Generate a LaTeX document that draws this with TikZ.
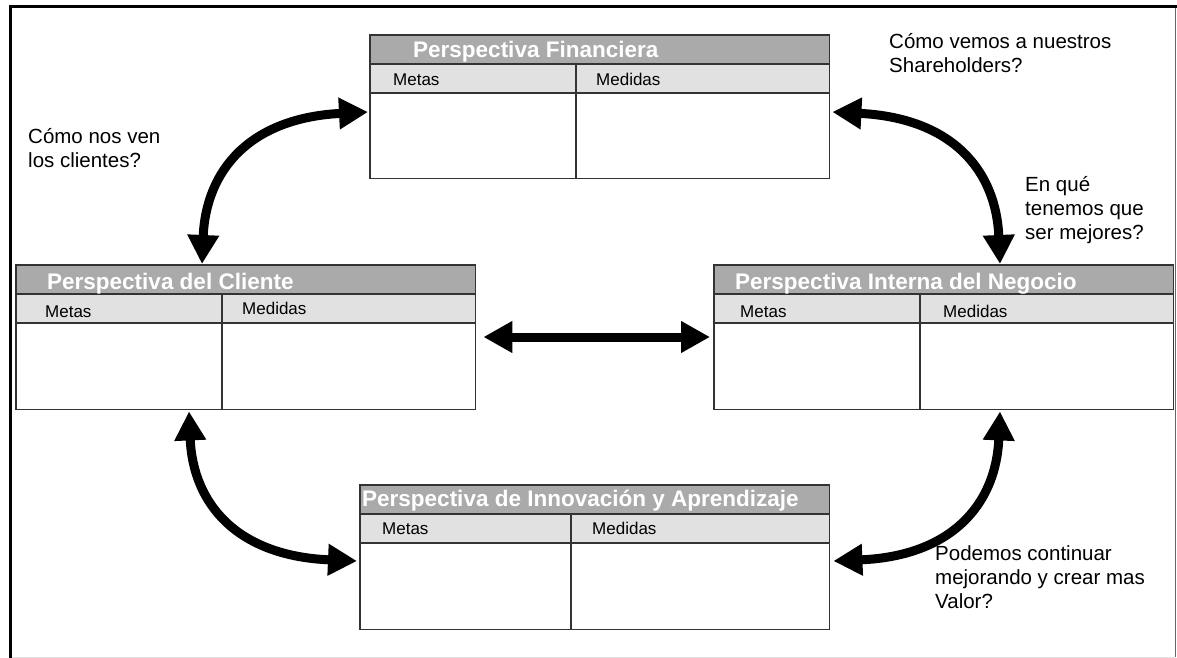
\documentclass[tikz,border=0pt]{standalone}
\usepackage{fontspec}
\setmainfont{Liberation Sans}
\usetikzlibrary{arrows.meta,calc}
\definecolor{hdrgray}{RGB}{170,170,170}
\definecolor{subgray}{RGB}{225,225,225}
\definecolor{rulegray}{RGB}{51,51,51}

% one perspective table: #1 = node name, #2 = x offset of the column divider
\newcommand\persptable[2]{%
  \fill[white] (#1.north west) rectangle (#1.south east);
  \fill[hdrgray] (#1.north west) rectangle ($(#1.north east)+(0,29)$);
  \fill[subgray] ($(#1.north west)+(0,29)$) rectangle ($(#1.north east)+(0,58)$);
  \draw[tablerule] ($(#1.north west)+(0,29)$) -- ($(#1.north east)+(0,29)$);
  \draw[tablerule] ($(#1.north west)+(0,58)$) -- ($(#1.north east)+(0,58)$);
  \draw[tablerule] ($(#1.north west)+(#2,29)$) -- ($(#1.south west)+(#2,0)$);
  \draw[tablerule] (#1.north west) rectangle (#1.south east);
}

\begin{document}
\begin{tikzpicture}[x=1pt,y=-1pt,
  pbox/.style={rectangle, inner sep=0pt, anchor=north west},
  tablerule/.style={draw=rulegray, line width=1.6pt},
  hdrtext/.style={anchor=base west, inner sep=0pt, text=white,
    font=\fontsize{22.5}{26}\selectfont\bfseries},
  coltext/.style={anchor=base west, inner sep=0pt,
    font=\fontsize{17}{20}\selectfont},
  question/.style={anchor=base west, inner sep=0pt,
    font=\fontsize{20.5}{24}\selectfont},
  bigarrow/.style={line width=9pt,
    {Triangle[length=29pt,width=30pt]}-{Triangle[length=29pt,width=30pt]}},
]
\useasboundingbox (0,0) rectangle (1177,658);
\fill[white] (0,0) rectangle (1177,658);

% window frame
\draw[line width=3.5pt] (10.5,658) -- (10.5,6.5) -- (1177,6.5);
\draw[line width=1pt, black!60] (1175.5,8) -- (1175.5,657);
\draw[line width=1pt, black!12] (12,657) -- (1175,657);

% table outlines
\node[pbox, minimum width=459pt, minimum height=143pt] (fin) at (370,35) {};
\node[pbox, minimum width=459pt, minimum height=144pt] (cli) at (16,265) {};
\node[pbox, minimum width=459pt, minimum height=144pt] (int) at (714,265) {};
\node[pbox, minimum width=469pt, minimum height=144pt] (inn) at (360,485) {};

\persptable{fin}{206}
\persptable{cli}{206}
\persptable{int}{206}
\persptable{inn}{211}

% titles and column heads
\node[hdrtext] (finT) at (413,58) {Perspectiva Financiera};
\node[coltext] (finA) at (393,86) {Metas};
\node[coltext] (finB) at (596,86) {Medidas};

\node[hdrtext] (cliT) at (47,289) {Perspectiva del Cliente};
\node[coltext] (cliA) at (45,317) {Metas};
\node[coltext] (cliB) at (242,314) {Medidas};

\node[hdrtext] (intT) at (735,289) {Perspectiva Interna del Negocio};
\node[coltext] (intA) at (740,317) {Metas};
\node[coltext] (intB) at (943,317) {Medidas};

\node[hdrtext] (innT) at (362,506) {Perspectiva de Innovación y Aprendizaje};
\node[coltext] (innA) at (382,534) {Metas};
\node[coltext] (innB) at (592,534) {Medidas};

% questions
\node[question] (q1) at (28,143)
  {\begin{tabular}[t]{@{}l@{}}Cómo nos ven\\los clientes?\end{tabular}};
\node[question] (q2) at (889,49)
  {\begin{tabular}[t]{@{}l@{}}Cómo vemos a nuestros\\Shareholders?\end{tabular}};
\node[question] (q3) at (1025,191)
  {\begin{tabular}[t]{@{}l@{}}En qué\\tenemos que\\ser mejores?\end{tabular}};
\node[question] (q4) at (935,560)
  {\begin{tabular}[t]{@{}l@{}}Podemos continuar\\mejorando y crear mas\\Valor?\end{tabular}};

% double-headed connectors
\draw[bigarrow] ($(cli.north west)+(186,-1)$)
  .. controls (206,170) and (250,118) .. ($(fin.north west)+(-2,77)$);
\draw[bigarrow] ($(fin.north east)+(3,77)$)
  .. controls (952,118) and (996,170) .. ($(int.north west)+(286,-1)$);
\draw[bigarrow] ($(cli.south west)+(173,2)$)
  .. controls (193,504) and (237,556) .. ($(inn.north west)+(-3,76)$);
\draw[bigarrow] ($(int.south west)+(286,2)$)
  .. controls (996,504) and (952,556) .. ($(inn.north east)+(4,76)$);
\draw[bigarrow] ($(cli.north east)+(8,72)$) -- ($(int.north west)+(-4,72)$);
\end{tikzpicture}
\end{document}
